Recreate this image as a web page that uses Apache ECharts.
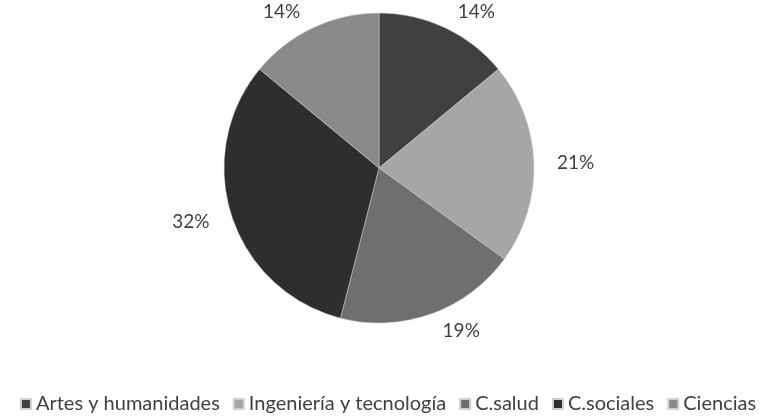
<!DOCTYPE html>
<html>
<head>
<meta charset="utf-8">
<script src="https://cdn.jsdelivr.net/npm/echarts@6/dist/echarts.min.js"></script>
<style>
    html, body { margin: 0; padding: 0; background: #fff; }
    #chart { width: 776px; height: 419px; }
</style>
</head>
<body>
<div id="chart"></div>
<script>
const categories = ["Artes y humanidades", "Ingeniería y tecnología", "C.salud", "C.sociales", "Ciencias"];
const shares = [14, 21, 19, 32, 14];
const sliceColors = ["#404040", "#a6a6a6", "#6f6f6f", "#2e2e2e", "#8a8a8a"];

const chart = echarts.init(document.getElementById("chart"));

chart.setOption({
    animation: false,
    textStyle: { fontFamily: "Lato, 'Noto Sans', sans-serif" },
    legend: {
        bottom: 0,
        left: "center",
        itemWidth: 10,
        itemHeight: 10,
        itemGap: 13,
        icon: "rect",
        textStyle: { fontSize: 20, color: "#404040" },
        data: categories,
    },
    series: [
        {
            type: "pie",
            center: [379, 168],
            radius: 155,
            startAngle: 90,
            clockwise: true,
            itemStyle: { borderColor: "#d0d0d0", borderWidth: 0.5 },
            label: {
                show: true,
                position: "outside",
                formatter: "{c}%",
                fontSize: 19,
                color: "#404040",
            },
            labelLine: { show: false, length: 18, length2: 0 },
            data: categories.map((name, i) => ({
                name,
                value: shares[i],
                itemStyle: { color: sliceColors[i] },
            })),
        },
    ],
});
</script>
</body>
</html>
